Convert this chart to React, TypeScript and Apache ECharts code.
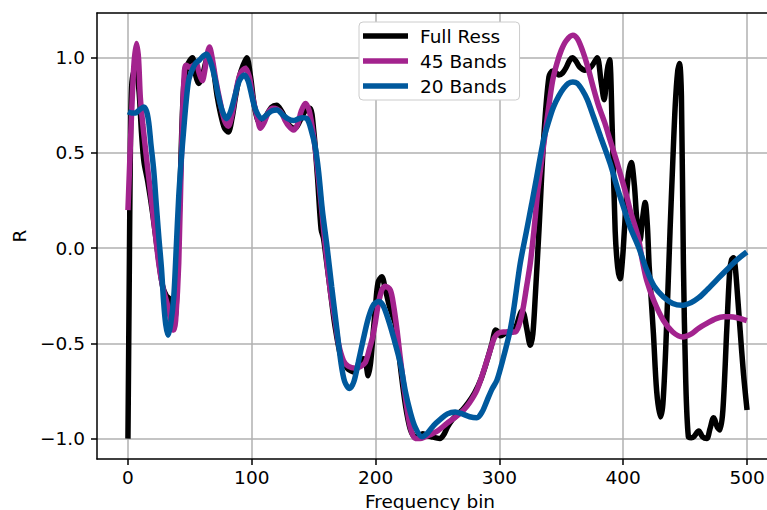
import React, { useEffect, useRef } from "react";
import * as echarts from "echarts";

const fullX = [0,1,2,3,5,7,9,11,13,16,20,24,28,31,34,37,39,42,45,48,52,55,57,60,63,66,69,72,75,78,81,84,87,90,93,96,99,102,105,108,112,116,120,124,128,131,135,139,143,147,150,153,156,158,160,163,167,172,177,183,187,190,192,194,196,198,200,202,205,208,211,214,216,218,220,224,228,232,235,238,241,245,248,252,255,258,262,265,270,275,280,285,290,294,297,299,301,304,307,310,313,316,318,320,322,325,327,329,332,336,340,343,346,348,351,354,357,359,362,365,369,372,375,379,382,384.6,387,389,391,393.5,395.5,397.5,399.5,401,404,406.5,409,411,413.5,415.5,417.7,419.5,421,424.4,427,430,432,434.5,437.8,440,442,444,445.5,447,448.6,450.5,452.6,455,457,461,464,467.5,470,473,476,478,480.5,483.6,486,487.5,489,490.5,492,494.4,497,500];
const fullY = [-1.0,-0.2,0.55,0.85,0.93,0.92,0.82,0.6,0.45,0.35,0.18,-0.02,-0.2,-0.25,-0.27,-0.4,-0.3,0.3,0.85,0.96,1.0,0.9,0.865,0.9,0.98,1.02,0.94,0.8,0.7,0.63,0.61,0.68,0.8,0.9,0.96,1.0,0.9,0.75,0.67,0.66,0.7,0.74,0.75,0.72,0.67,0.64,0.63,0.67,0.72,0.735,0.62,0.38,0.1,0.05,-0.05,-0.2,-0.4,-0.57,-0.63,-0.65,-0.6,-0.58,-0.6,-0.67,-0.6,-0.45,-0.3,-0.18,-0.15,-0.22,-0.3,-0.36,-0.4,-0.5,-0.62,-0.82,-0.95,-0.99,-0.985,-0.975,-0.985,-0.99,-0.995,-1.0,-0.98,-0.94,-0.9,-0.88,-0.85,-0.81,-0.76,-0.69,-0.59,-0.5,-0.43,-0.44,-0.46,-0.45,-0.44,-0.44,-0.42,-0.36,-0.33,-0.35,-0.42,-0.51,-0.45,-0.25,0.1,0.6,0.9,0.93,0.92,0.91,0.92,0.95,0.99,1.0,0.98,0.95,0.935,0.94,0.96,1.0,0.88,0.78,0.93,0.99,0.65,0.09,-0.1,-0.16,-0.05,0.1,0.38,0.45,0.33,0.15,0.04,0.15,0.24,0.12,-0.1,-0.45,-0.75,-0.886,-0.82,-0.5,0.09,0.45,0.75,0.93,0.97,0.8,-0.08,-0.7,-0.99,-0.995,-0.99,-0.96,-0.99,-1.0,-0.95,-0.89,-0.94,-0.955,-0.85,-0.43,-0.12,-0.06,-0.05,-0.1,-0.22,-0.43,-0.65,-0.85];

const b45X = [0,2,3.4,5,6.9,8.5,10,12,14,17,19.5,22,24.9,28,31.6,34,36,37,38.5,41,43.7,45.6,47,50,53,55,57.5,60,62,64,65.8,68,71,74.7,78,81,84,88,91,94.8,98,100.5,103,105,107,110,113.6,117,120.4,124,127,130,133.6,137,140,143.3,146.5,150,152.5,155.4,158,160.8,164,167.5,170,174,178,183.6,188,191.7,195,197.5,199.8,202,205,207.8,211.9,214.5,217.3,220,224,228,232,236,240,244,250,257.6,264,271,276,281.8,287,292.6,296,299,303,308,312.7,316,319,322,324.9,328,331,335.5,340,343,346.4,350,354,359.3,363,367,371,375.7,380,385,389.4,395,402.9,406,412,415,419,425,432.5,440,448,455,461,467.5,475,481,486,492,499.8];
const b45Y = [0.2,0.55,0.78,0.98,1.075,1.0,0.79,0.65,0.53,0.36,0.22,0.08,-0.08,-0.2,-0.29,-0.36,-0.42,-0.43,-0.38,-0.08,0.62,0.93,0.96,0.95,0.96,0.97,0.92,0.88,0.93,1.02,1.057,1.0,0.88,0.76,0.67,0.64,0.7,0.85,0.92,0.945,0.9,0.8,0.725,0.67,0.63,0.66,0.716,0.735,0.73,0.71,0.67,0.64,0.62,0.65,0.72,0.76,0.72,0.585,0.45,0.27,0.1,-0.08,-0.25,-0.39,-0.5,-0.59,-0.62,-0.63,-0.62,-0.6,-0.53,-0.47,-0.39,-0.3,-0.22,-0.2,-0.22,-0.3,-0.43,-0.58,-0.78,-0.94,-1.0,-1.0,-0.99,-0.98,-0.96,-0.92,-0.89,-0.85,-0.81,-0.745,-0.65,-0.535,-0.47,-0.447,-0.44,-0.44,-0.44,-0.4,-0.32,-0.2,-0.08,0.1,0.3,0.53,0.75,0.88,0.97,1.04,1.09,1.118,1.1,1.04,0.96,0.847,0.75,0.66,0.567,0.45,0.27,0.19,0.06,-0.05,-0.17,-0.28,-0.38,-0.44,-0.466,-0.45,-0.42,-0.395,-0.37,-0.36,-0.36,-0.365,-0.38];

const b20X = [0,3,6,9,12.8,15,16.8,18.5,20.8,23,24.9,27,28.9,30.5,32.4,34.5,37,39,41,43,45,47,49,51.5,54.5,58,61,63.4,66,68.5,70.6,73,76,79.5,83,86.8,90,94,97,99,101.5,104.3,108.3,112,116,120.4,125,129,133.6,138,141,144.6,148,151.3,154,157,160.8,164.5,168.8,172,175,179,182.5,186,190,194,198,202.4,206,210,215,220,224,228,232,237.4,242,247,252,258,264.3,270,276,281.8,286,290,294,298,303,308.7,312,316.8,322,326,330,335.6,340,343.7,348,352,355.5,359.3,363,367,371,376,382,389.4,396,401,405.6,412.3,419,425,432.5,440,447.3,455,461,467.5,475,481,486,492,499.8];
const b20Y = [0.716,0.71,0.71,0.725,0.742,0.72,0.66,0.55,0.41,0.22,0.06,-0.1,-0.29,-0.4,-0.457,-0.4,-0.255,0.0,0.27,0.46,0.62,0.77,0.88,0.93,0.97,0.99,1.01,1.02,0.99,0.94,0.88,0.8,0.725,0.68,0.72,0.81,0.88,0.91,0.88,0.83,0.76,0.71,0.68,0.7,0.72,0.725,0.7,0.68,0.67,0.68,0.685,0.68,0.62,0.53,0.4,0.2,0.007,-0.2,-0.43,-0.6,-0.7,-0.737,-0.7,-0.6,-0.48,-0.37,-0.3,-0.28,-0.3,-0.37,-0.48,-0.605,-0.75,-0.86,-0.94,-0.99,-0.97,-0.93,-0.9,-0.87,-0.86,-0.87,-0.885,-0.89,-0.86,-0.8,-0.74,-0.693,-0.58,-0.43,-0.3,-0.08,0.094,0.23,0.37,0.567,0.67,0.742,0.8,0.84,0.865,0.873,0.865,0.83,0.78,0.69,0.58,0.445,0.3,0.2,0.11,0.007,-0.115,-0.2,-0.256,-0.29,-0.3,-0.285,-0.26,-0.22,-0.17,-0.13,-0.098,-0.06,-0.02];

const seriesNames = ["Full Ress", "45 Bands", "20 Bands"];
const seriesColors = ["#000000", "#a3238e", "#00599d"];
const xTicks = [0, 100, 200, 300, 400, 500];
const yTicks = [-1.0, -0.5, 0.0, 0.5, 1.0];

const FONT = "DejaVu Sans";
const FS = 18.5;

function zip(xs: number[], ys: number[]) {
  return xs.map((x, i) => [x, ys[i]]);
}

export default function App() {
  const ref = useRef<HTMLDivElement>(null);
  useEffect(() => {
    if (!ref.current) return;
    const chart = echarts.init(ref.current, null, { renderer: "svg" });
    const datasets = [zip(fullX, fullY), zip(b45X, b45Y), zip(b20X, b20Y)];
    const fmtY = (v: number) => v.toFixed(1).replace("-", "\u2212");
    chart.setOption({
      animation: false,
      backgroundColor: "#ffffff",
      grid: { left: 97, top: 13, width: 681, height: 446, containLabel: false, outerBoundsMode: "none" },
      legend: {
        orient: "vertical",
        left: 359,
        top: 22,
        padding: [4, 13, 4, 4],
        itemGap: 5,
        itemWidth: 45,
        itemHeight: 5.5,
        icon: "rect",
        backgroundColor: "#ffffff",
        borderColor: "#cccccc",
        borderWidth: 1,
        borderRadius: 4,
        data: seriesNames,
        textStyle: {
          fontFamily: FONT,
          fontSize: FS,
          color: "#000000",
          lineHeight: 20,
          padding: [0, 0, 0, 7],
        },
      },
      xAxis: [
        {
          type: "value",
          min: -25,
          max: 525,
          position: "bottom",
          name: "Frequency bin",
          nameLocation: "middle",
          nameGap: 33,
          nameTextStyle: { fontFamily: FONT, fontSize: FS, color: "#000", padding: [0, 15, 0, 0] },
          axisLine: { show: true, onZero: false, lineStyle: { color: "#000", width: 1.5 } },
          axisTick: { show: true, customValues: xTicks, length: 6, lineStyle: { color: "#000", width: 1.5 } },
          axisLabel: {
            show: true,
            customValues: xTicks,
            margin: 9,
            fontFamily: FONT,
            fontSize: FS,
            color: "#000",
            formatter: (v: number) => String(v),
          },
          splitLine: { show: true, lineStyle: { color: "#b0b0b0", width: 1.5 } },
        },
        {
          type: "value",
          min: -25,
          max: 525,
          position: "top",
          axisLine: { show: true, onZero: false, lineStyle: { color: "#000", width: 1.5 } },
          axisTick: { show: false },
          axisLabel: { show: false },
          splitLine: { show: false },
        },
      ],
      yAxis: {
        type: "value",
        min: -1.107,
        max: 1.235,
        name: "R",
        nameLocation: "middle",
        nameGap: 66,
        nameRotate: 90,
        nameTextStyle: { fontFamily: FONT, fontSize: FS, color: "#000" },
        axisLine: { show: true, onZero: false, lineStyle: { color: "#000", width: 1.5 } },
        axisTick: { show: true, customValues: yTicks, length: 6, lineStyle: { color: "#000", width: 1.5 } },
        axisLabel: {
          show: true,
          customValues: yTicks,
          margin: 12,
          fontFamily: FONT,
          fontSize: FS,
          color: "#000",
          formatter: fmtY,
        },
        splitLine: { show: true, lineStyle: { color: "#b0b0b0", width: 1.5 } },
      },
      series: datasets.map((d, i) => ({
        name: seriesNames[i],
        type: "line",
        xAxisIndex: 0,
        data: d,
        showSymbol: false,
        symbol: "none",
        smooth: 0.3,
        color: seriesColors[i],
        lineStyle: { color: seriesColors[i], width: 5.5 },
        z: 2 + i,
      })),
    });
    return () => chart.dispose();
  }, []);
  return (
    <div
      ref={ref}
      style={{ position: "absolute", left: 0, top: 0, width: 767, height: 510 }}
    />
  );
}
